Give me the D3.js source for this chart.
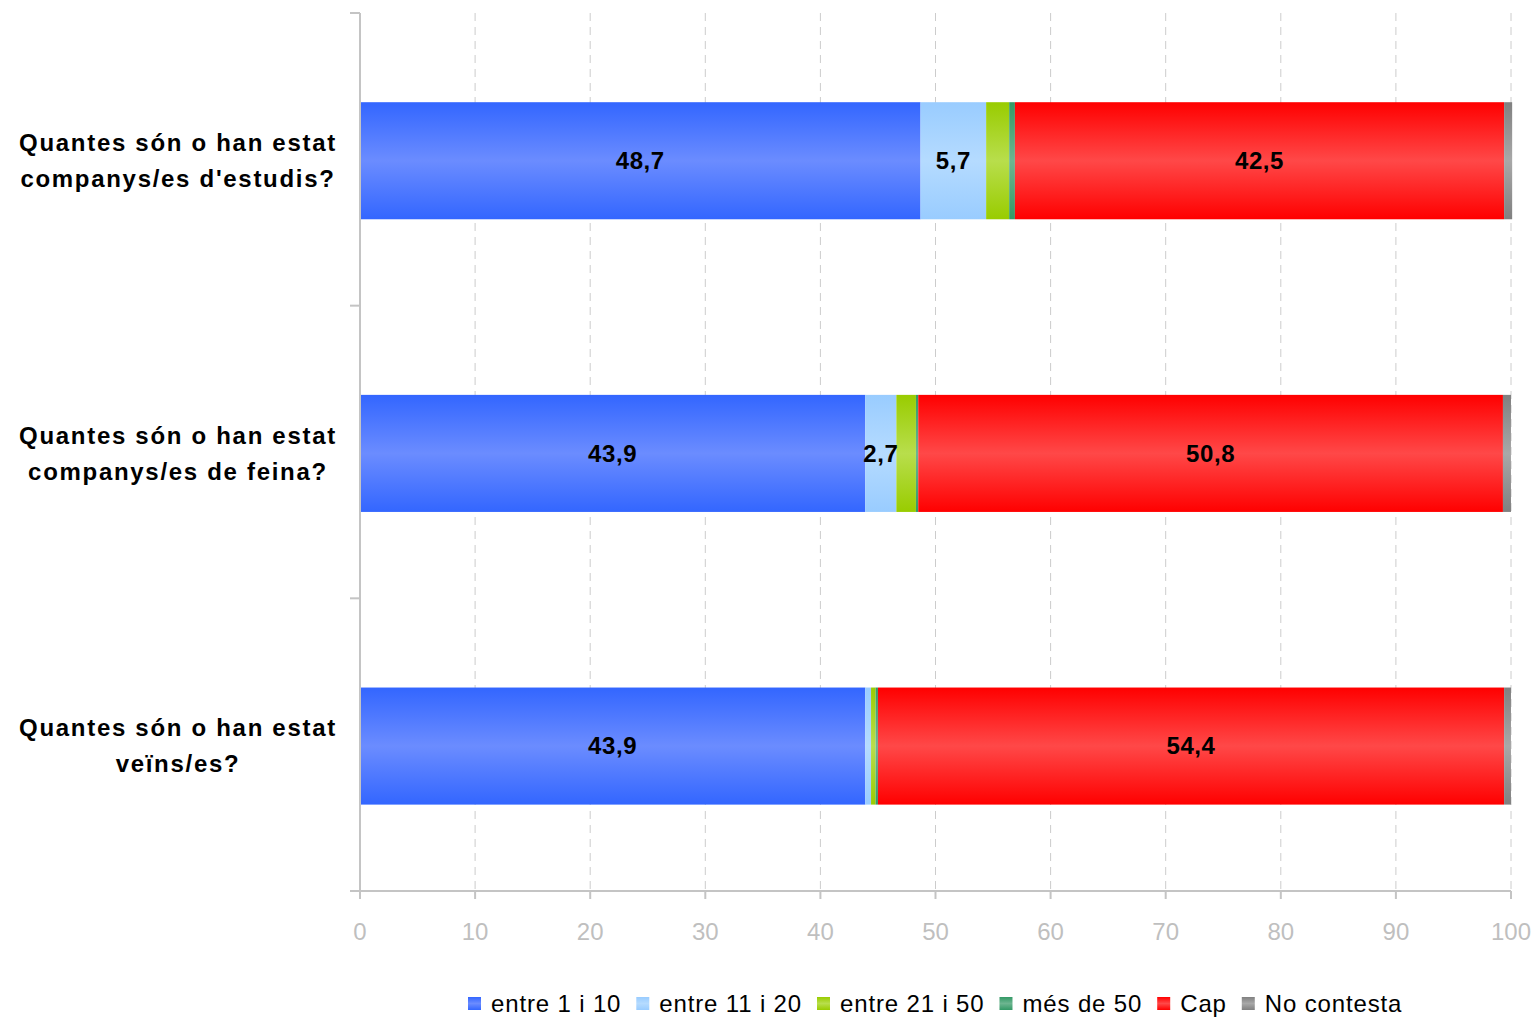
<!DOCTYPE html>
<html><head><meta charset="utf-8">
<script src="https://cdn.jsdelivr.net/npm/d3@7"></script>
<style>
html,body{margin:0;padding:0;background:#fff;}
svg{display:block;}
text{font-family:"Liberation Sans",Arial,sans-serif;}
</style></head>
<body>
<svg id="chart" width="1538" height="1017"></svg>
<script>
const categories = [
  ["Quantes són o han estat", "companys/es d'estudis?"],
  ["Quantes són o han estat", "companys/es de feina?"],
  ["Quantes són o han estat", "veïns/es?"]
];
const seriesNames = ["entre 1 i 10", "entre 11 i 20", "entre 21 i 50", "més de 50", "Cap", "No contesta"];
const seriesDark  = ["#3366ff", "#99ccff", "#99cc00", "#339966", "#ff0000", "#808080"];
const seriesLight = ["#6b8cff", "#b5dbff", "#b8de4c", "#6db590", "#ff4848", "#a8a8a8"];
const entre1i10   = [48.7, 43.9, 43.9];
const entre11i20  = [5.7, 2.7, 0.5];
const entre21i50  = [2.0, 1.7, 0.4];
const mesDe50     = [0.5, 0.2, 0.2];
const cap         = [42.5, 50.8, 54.4];
const noContesta  = [0.7, 0.7, 0.6];
const xTicks = [0,10,20,30,40,50,60,70,80,90,100];
const labelMin = 2.5;

const seriesValues = [entre1i10, entre11i20, entre21i50, mesDe50, cap, noContesta];

const svg = d3.select("#chart");
const L = 360, R = 1511, T = 13, B = 891;

const x = d3.scaleLinear().domain([0,100]).range([L,R]);
const y = d3.scaleBand().domain(d3.range(categories.length)).range([T,B])
  .paddingInner(0.6).paddingOuter(0.3).align(0.508);

const defs = svg.append("defs");
seriesNames.forEach((n,i)=>{
  const g = defs.append("linearGradient").attr("id","g"+i).attr("x1",0).attr("y1",0).attr("x2",0).attr("y2",1);
  g.append("stop").attr("offset","0%").attr("stop-color",seriesDark[i]);
  g.append("stop").attr("offset","50%").attr("stop-color",seriesLight[i]);
  g.append("stop").attr("offset","100%").attr("stop-color",seriesDark[i]);
});

// gridlines
svg.append("g").selectAll("line").data(xTicks.filter(d=>d>0)).join("line")
  .attr("x1",d=>x(d)).attr("x2",d=>x(d)).attr("y1",T).attr("y2",B)
  .attr("stroke","#cccccc").attr("stroke-width",1).attr("stroke-dasharray","8,6");

// stacked data
const stackData = categories.map((c,ci)=>{
  const o = {idx:ci};
  seriesNames.forEach((s,si)=>{o[s]=seriesValues[si][ci];});
  return o;
});
const stacked = d3.stack().keys(seriesNames)(stackData);

const gBars = svg.append("g");
stacked.forEach((layer,si)=>{
  gBars.append("g").attr("fill","url(#g"+si+")").selectAll("rect").data(layer).join("rect")
    .attr("x",d=>x(d[0])).attr("width",d=>x(d[1])-x(d[0]))
    .attr("y",(d,i)=>y(i)).attr("height",y.bandwidth());
});
stacked.forEach((layer,si)=>{
  svg.append("g").selectAll("text").data(layer.filter(d=>(d[1]-d[0])>=labelMin)).join("text")
    .attr("x",d=>(x(d[0])+x(d[1]))/2).attr("y",d=>y(d.data.idx)+y.bandwidth()/2)
    .attr("dy","0.35em").attr("text-anchor","middle")
    .attr("font-size",24).attr("font-weight","bold").attr("letter-spacing",0.6).attr("fill","#000")
    .text(d=>String((d[1]-d[0]).toFixed(1)).replace(".",","));
});

// axes
const axisColor = "#c4c4c4";
svg.append("line").attr("x1",L).attr("x2",L).attr("y1",T).attr("y2",B+8).attr("stroke",axisColor).attr("stroke-width",2);
svg.append("line").attr("x1",L-10).attr("x2",R).attr("y1",B).attr("y2",B).attr("stroke",axisColor).attr("stroke-width",2);
const yTickPos = d3.range(categories.length+1).map(i=>T + i*(B-T)/categories.length);
svg.append("g").selectAll("line").data(yTickPos).join("line")
  .attr("x1",L-10).attr("x2",L).attr("y1",d=>d).attr("y2",d=>d).attr("stroke",axisColor).attr("stroke-width",2);
svg.append("g").selectAll("line").data(xTicks).join("line")
  .attr("x1",d=>x(d)).attr("x2",d=>x(d)).attr("y1",B).attr("y2",B+8).attr("stroke",axisColor).attr("stroke-width",2);
svg.append("g").selectAll("text").data(xTicks).join("text")
  .attr("x",d=>x(d)).attr("y",940).attr("text-anchor","middle")
  .attr("font-size",24).attr("fill","#bfbfbf").text(d=>d);

// category labels
const catG = svg.append("g");
categories.forEach((lines,i)=>{
  const cy = y(i)+y.bandwidth()/2;
  const t = catG.append("text").attr("text-anchor","middle").attr("font-size",24).attr("font-weight","bold")
    .attr("letter-spacing",1.7).attr("fill","#000");
  lines.forEach((ln,li)=>{
    t.append("tspan").attr("x",178).attr("y",cy + (li - (lines.length-1)/2)*36).attr("dy","0.35em").text(ln);
  });
});

// legend
const leg = svg.append("g");
let lx = 468;
seriesNames.forEach((n,i)=>{
  leg.append("rect").attr("x",lx).attr("y",997).attr("width",13).attr("height",13).attr("fill","url(#g"+i+")");
  const t = leg.append("text").attr("x",lx+23).attr("y",1004).attr("dy","0.35em")
    .attr("font-size",24).attr("letter-spacing",0.85).attr("fill","#000").text(n);
  lx = lx + 23 + t.node().getComputedTextLength() + 15;
});
</script>
</body></html>
